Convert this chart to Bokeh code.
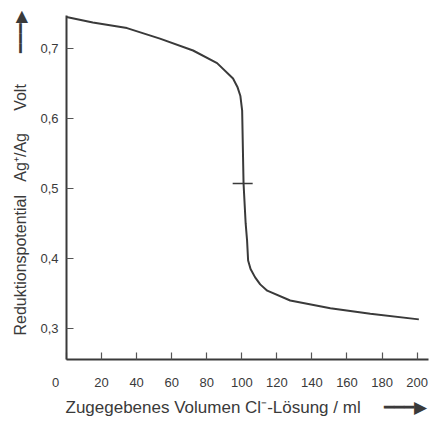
from bokeh.plotting import figure
from bokeh.models import FixedTicker, CustomJSTickFormatter, Title, Range1d
from bokeh.embed import file_html
from bokeh.resources import INLINE

# Data
volume_ml = [0, 15, 34.5, 53.3, 72.2, 85.9, 95.0, 97.5, 99.2, 100.2, 101.0, 102.2, 103.0,
             103.6, 105.0, 107.6, 110.5, 114.5, 127.6, 150.5, 173.3, 201.0]
potential_v = [0.745, 0.737, 0.729, 0.714, 0.697, 0.679, 0.657, 0.645, 0.632, 0.611, 0.507, 0.45, 0.426,
               0.397, 0.385, 0.373, 0.363, 0.354, 0.340, 0.329, 0.321, 0.313]
equiv_x = [100.5]
equiv_y = [0.507]
x_ticks = [0, 20, 40, 60, 80, 100, 120, 140, 160, 180, 200]
x_tick_labels = {0: "0" + "\u00a0" * 6}
y_ticks = [0.3, 0.4, 0.5, 0.6, 0.7]

NB = "\u00a0"
ARROW = "━━━▶"
y_title = "Reduktionspotential" + NB * 3 + "Ag⁺/Ag" + NB * 5 + "Volt" + NB * 7 + ARROW
x_title = "Zugegebenes Volumen Cl⁻-Lösung / ml" + NB * 5 + ARROW

FONT = "Liberation Sans"
INK = "#3a3a3a"

p = figure(width=430, height=421, output_backend="svg", toolbar_location=None,
           x_range=Range1d(0, 206.5), y_range=Range1d(0.2557, 0.747),
           min_border_left=66, min_border_right=2, min_border_top=15, min_border_bottom=62)
p.outline_line_color = None
p.xgrid.visible = False
p.ygrid.visible = False
p.background_fill_color = "white"
p.border_fill_color = "white"

p.line(volume_ml, potential_v, line_color=INK, line_width=2)
p.scatter(equiv_x, equiv_y, marker="dash", size=20, line_color=INK, line_width=1.6)

for ax in (p.xaxis[0], p.yaxis[0]):
    ax.axis_line_color = INK
    ax.axis_line_width = 2
    ax.major_tick_line_color = "#555555"
    ax.major_tick_line_width = 1.2
    ax.minor_tick_line_color = None
    ax.major_tick_out = 0
    ax.major_tick_in = 7
    ax.major_label_text_font = FONT
    ax.major_label_text_font_size = "13px"
    ax.major_label_text_color = INK

p.xaxis.ticker = FixedTicker(ticks=x_ticks)
p.xaxis.major_label_overrides = x_tick_labels
p.xaxis.major_label_standoff = 15
p.yaxis.ticker = FixedTicker(ticks=y_ticks)
p.yaxis.formatter = CustomJSTickFormatter(code="return tick.toFixed(1).replace('.', ',');")
p.yaxis.major_label_standoff = 8

p.add_layout(Title(text=y_title, align="left", offset=24, standoff=17,
                   text_font=FONT, text_font_size="16px", text_font_style="normal",
                   text_color=INK), "left")
p.add_layout(Title(text=x_title, align="left", offset=-1, standoff=6,
                   text_font=FONT, text_font_size="17px", text_font_style="normal",
                   text_color=INK), "below")

open("out.html", "w").write(file_html(p, INLINE))
